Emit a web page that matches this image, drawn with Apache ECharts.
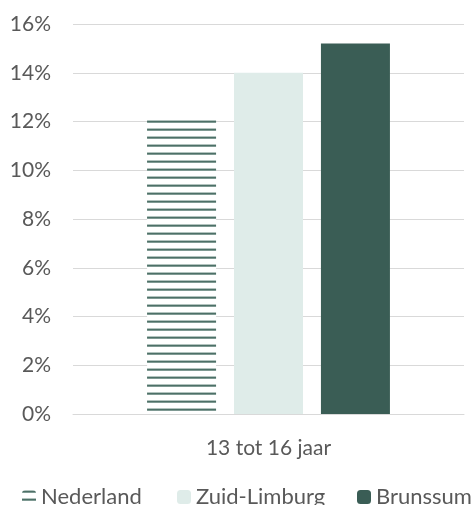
<!DOCTYPE html>
<html><head><meta charset="utf-8">
<script src="https://cdn.jsdelivr.net/npm/echarts@6/dist/echarts.min.js"></script>
<style>html,body{margin:0;padding:0;background:#fff}#c{width:476px;height:505px}</style>
</head><body><div id="c"></div>
<script>
const categories = ['13 tot 16 jaar'];
const seriesNames = ['Nederland', 'Zuid-Limburg', 'Brunssum'];
const nederland = [12.2];
const zuidLimburg = [14.0];
const brunssum = [15.2];
const yTicks = [0, 2, 4, 6, 8, 10, 12, 14, 16];

const pc = document.createElement('canvas');
pc.width = 8; pc.height = 8;
const ctx = pc.getContext('2d');
ctx.fillStyle = '#ffffff'; ctx.fillRect(0,0,8,8);
ctx.fillStyle = '#b3c4bf'; ctx.fillRect(0,0,8,1);
ctx.fillStyle = '#4d7067'; ctx.fillRect(0,1,8,1);
ctx.fillStyle = '#7f9a93'; ctx.fillRect(0,2,8,1);

const font = 'Lato';
const chart = echarts.init(document.getElementById('c'), null, {renderer:'canvas'});
const legendBase = {top: 486, padding: 0, itemWidth: 14, itemHeight: 14, itemGap: 8,
  textStyle: {fontFamily: font, fontSize: 22, color: '#595959'}, selectedMode: false};
chart.setOption({
  animation: false,
  grid: {left: 73, right: 12, top: 24, bottom: 91},
  legend: [
    Object.assign({}, legendBase, {left: 22, data: [seriesNames[0]]}),
    Object.assign({}, legendBase, {left: 177, data: [seriesNames[1]]}),
    Object.assign({}, legendBase, {left: 357, data: [seriesNames[2]]})
  ],
  xAxis: {
    type: 'category', data: categories,
    axisLine: {show: true, lineStyle: {color: '#d9d9d9', width: 1}},
    axisTick: {show: false},
    axisLabel: {fontFamily: font, fontSize: 21, color: '#595959', margin: 24}
  },
  yAxis: {
    type: 'value', min: yTicks[0], max: yTicks[yTicks.length-1], interval: 2,
    axisLine: {show: false}, axisTick: {show: false},
    splitLine: {lineStyle: {color: '#d9d9d9', width: 1}},
    axisLabel: {fontFamily: font, fontSize: 21, color: '#595959', margin: 22,
      formatter: v => v + '%'}
  },
  series: [
    {name: seriesNames[0], type: 'bar', data: nederland, barWidth: 69, barGap: '26%',
      itemStyle: {color: {image: pc, repeat: 'repeat'}}},
    {name: seriesNames[1], type: 'bar', data: zuidLimburg, barWidth: 69,
      itemStyle: {color: '#dfece9'}},
    {name: seriesNames[2], type: 'bar', data: brunssum, barWidth: 69,
      itemStyle: {color: '#3a5d55'}}
  ]
});
</script></body></html>
